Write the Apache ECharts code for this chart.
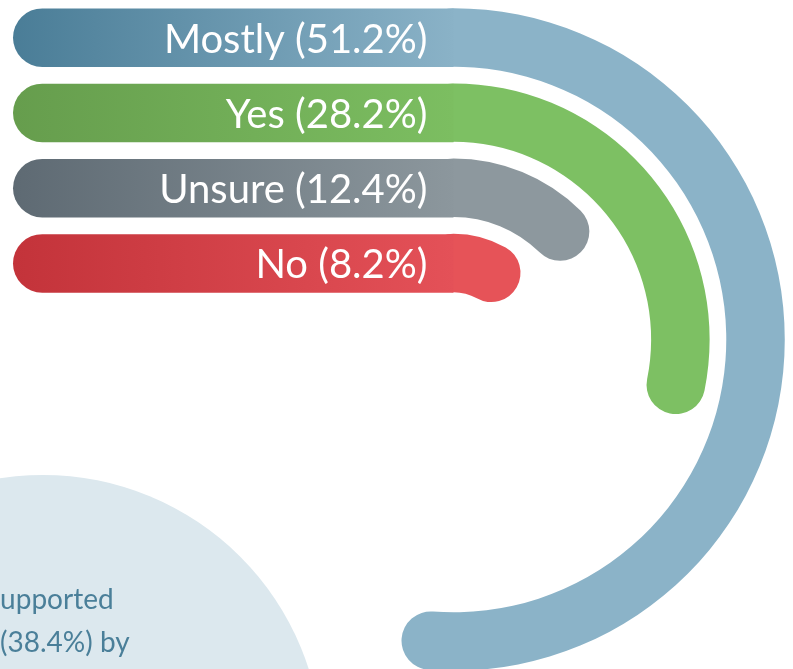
<!DOCTYPE html>
<html>
<head>
<meta charset="utf-8">
<script src="https://cdn.jsdelivr.net/npm/echarts@6/dist/echarts.min.js"></script>
<style>
  html, body { margin: 0; padding: 0; background: #ffffff; }
  #chart { width: 793px; height: 669px; }
</style>
</head>
<body>
<div id="chart"></div>
<script>
// Answers, from the outer ring to the inner ring
const answers = ['Mostly', 'Yes', 'Unsure', 'No'];
// Share of respondents per answer, in percent
const shares = [51.2, 28.2, 12.4, 8.2];
// Each ring starts with a straight lead-in of the same length
const leadIn = [1, 1, 1, 1];

// Lead-in gradient (dark end, light end) and arc colour per answer
const darkEnds = ['#4a7d97', '#669d4d', '#5e6a73', '#c3333a'];
const lightEnds = ['#8ab2c7', '#7cbe61', '#8c979d', '#e45158'];
const arcColors = ['#8bb3c8', '#7dc063', '#8d989e', '#e65358'];

const labelFont = 'Lato, "Open Sans", sans-serif';

const chart = echarts.init(document.getElementById('chart'), null, { renderer: 'canvas' });

const ringOrder = answers.slice().reverse(); // inner -> outer for the radius axis

chart.setOption({
  animation: false,
  backgroundColor: '#ffffff',
  graphic: [
    {
      type: 'circle',
      shape: { cx: 43, cy: 754, r: 279 },
      style: { fill: '#dce8ee' },
      z: -10,
      silent: true
    },
    {
      type: 'text',
      x: -12, y: 600,
      style: {
        text: 'supported',
        fill: '#4a7f99',
        fontSize: 28,
        fontFamily: labelFont,
        verticalAlign: 'middle'
      },
      z: -5
    },
    {
      type: 'text',
      x: 0, y: 643,
      style: {
        text: '(38.4%) by',
        fill: '#4a7f99',
        fontSize: 28,
        fontFamily: labelFont,
        verticalAlign: 'middle'
      },
      z: -5
    }
  ],
  polar: {
    center: [453.5, 339.5],
    radius: [39, 339.6]
  },
  angleAxis: {
    type: 'value',
    min: 0,
    max: 100,
    startAngle: 90,
    clockwise: true,
    show: false
  },
  radiusAxis: {
    type: 'category',
    data: ringOrder,
    show: false
  },
  grid: {
    left: 13,
    top: 0,
    width: 440.5,
    height: 301,
    containLabel: false
  },
  xAxis: { type: 'value', min: 0, max: 1, show: false },
  yAxis: { type: 'category', data: answers, inverse: true, show: false },
  series: [
    {
      name: 'arc',
      type: 'bar',
      coordinateSystem: 'polar',
      roundCap: true,
      barWidth: 58.5,
      z: 1,
      silent: true,
      data: ringOrder.map(function (a) {
        const i = answers.indexOf(a);
        return { value: shares[i], itemStyle: { color: arcColors[i] } };
      })
    },
    {
      name: 'lead-in',
      type: 'bar',
      xAxisIndex: 0,
      yAxisIndex: 0,
      barWidth: 58.5,
      z: 5,
      silent: true,
      data: leadIn.map(function (v, i) {
        return {
          value: v,
          itemStyle: {
            borderRadius: [29.25, 0, 0, 29.25],
            color: new echarts.graphic.LinearGradient(0, 0, 1, 0, [
              { offset: 0, color: darkEnds[i] },
              { offset: 1, color: lightEnds[i] }
            ])
          }
        };
      }),
      label: {
        show: true,
        position: 'insideRight',
        distance: 26,
        offset: [0, 2],
        color: '#ffffff',
        fontFamily: labelFont,
        fontSize: 40,
        formatter: function (p) {
          return answers[p.dataIndex] + ' (' + shares[p.dataIndex].toFixed(1) + '%)';
        }
      }
    }
  ]
});
</script>
</body>
</html>
